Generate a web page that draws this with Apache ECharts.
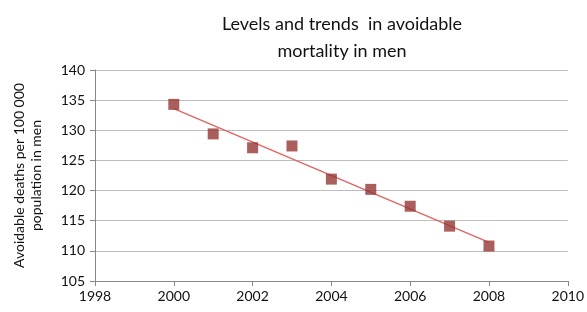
<!DOCTYPE html>
<html>
<head>
<meta charset="utf-8">
<script src="https://cdn.jsdelivr.net/npm/echarts@6/dist/echarts.min.js"></script>
<style>
  html, body { margin: 0; padding: 0; background: #fff; }
  #main { width: 587px; height: 312px; }
</style>
</head>
<body>
<div id="main"></div>
<script>
// data
var years = [2000, 2001, 2002, 2003, 2004, 2005, 2006, 2007, 2008];
var deaths = [134.3, 129.4, 127.1, 127.4, 121.9, 120.2, 117.4, 114.1, 110.8];
// linear trend endpoints
var trendYears = [2000, 2008];
var trendValues = [133.6, 111.4];

var myChart = echarts.init(document.getElementById('main'));
var font = 'Lato, "Open Sans", sans-serif';

var option = {
    animation: false,
    title: {
        text: 'Levels and trends  in avoidable\nmortality in men',
        left: 337,
        textAlign: 'center',
        top: 6,
        textStyle: {
            fontFamily: font,
            fontSize: 18,
            fontWeight: 'normal',
            color: '#111',
            lineHeight: 27
        }
    },
    grid: {
        left: 95,
        right: 18,
        top: 70,
        bottom: 31
    },
    xAxis: {
        type: 'value',
        min: 1998,
        max: 2010,
        interval: 2,
        axisLine: { lineStyle: { color: '#888' } },
        axisTick: { show: true, length: 5, lineStyle: { color: '#888' } },
        axisLabel: {
            color: '#111', fontSize: 14, fontFamily: font, margin: 8,
            formatter: function(v) { return String(v); }
        },
        splitLine: { show: false }
    },
    yAxis: {
        type: 'value',
        min: 105,
        max: 140,
        interval: 5,
        name: 'Avoidable deaths per 100 000\npopulation in men',
        nameLocation: 'middle',
        nameGap: 50,
        nameTextStyle: { fontFamily: font, fontSize: 14, color: '#111', lineHeight: 17 },
        axisLine: { show: true, lineStyle: { color: '#888' } },
        axisTick: { show: true, length: 5, lineStyle: { color: '#888' } },
        axisLabel: { color: '#111', fontSize: 14, fontFamily: font, margin: 10 },
        splitLine: { lineStyle: { color: '#bdbdbd' } }
    },
    series: [{
        name: 'trend',
        type: 'line',
        data: trendYears.map(function(y, i) { return [y, trendValues[i]]; }),
        symbol: 'none',
        lineStyle: { color: '#e06666', width: 1.5 },
        z: 2
    }, {
        name: 'deaths',
        type: 'scatter',
        data: years.map(function(y, i) { return [y, deaths[i]]; }),
        symbol: 'rect',
        symbolSize: 11,
        itemStyle: { color: '#953735' },
        z: 3
    }]
};

myChart.setOption(option);
</script>
</body>
</html>
